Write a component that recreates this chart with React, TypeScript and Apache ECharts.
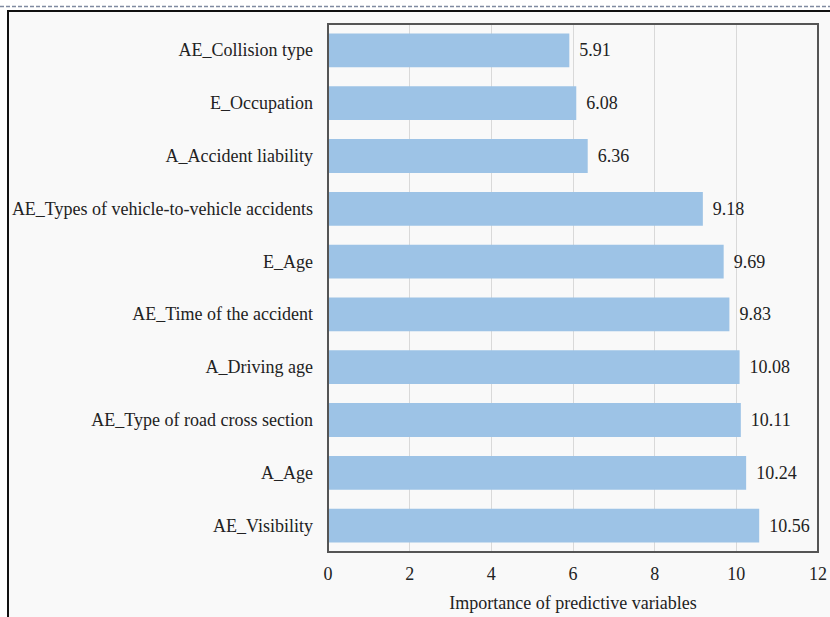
import React, { useEffect, useRef } from "react";
import * as echarts from "echarts";

const categories = [
  "AE_Visibility",
  "A_Age",
  "AE_Type of road cross section",
  "A_Driving age",
  "AE_Time of the accident",
  "E_Age",
  "AE_Types of vehicle-to-vehicle accidents",
  "A_Accident liability",
  "E_Occupation",
  "AE_Collision type",
];
const values = [10.56, 10.24, 10.11, 10.08, 9.83, 9.69, 9.18, 6.36, 6.08, 5.91];
const xTicks = { min: 0, max: 12, interval: 2 };
const xAxisTitle = "Importance of predictive variables";

export default function App() {
  const ref = useRef<HTMLDivElement>(null);
  useEffect(() => {
    if (!ref.current) return;
    const chart = echarts.init(ref.current, null, { renderer: "svg" });
    const font = "'Liberation Serif', 'Times New Roman', serif";
    chart.setOption({
      animation: false,
      backgroundColor: "#ffffff",
      textStyle: { fontFamily: font },
      graphic: [
        {
          type: "line",
          shape: { x1: 0, y1: 6.5, x2: 830, y2: 6.5 },
          style: { stroke: "#7f8aa0", lineWidth: 1.5, lineDash: [4, 2] },
          z: -10,
        },
        {
          type: "rect",
          shape: { x: 8, y: 11, width: 900, height: 700 },
          style: { fill: "#f9f9f9", stroke: "#111111", lineWidth: 2 },
          z: -20,
        },
      ],
      grid: {
        left: 328,
        right: 9,
        top: 24,
        bottom: 63,
        show: true,
        borderColor: "#555555",
        borderWidth: 2,
        backgroundColor: "transparent",
        z: 5,
      },
      xAxis: {
        type: "value",
        min: xTicks.min,
        max: xTicks.max,
        interval: xTicks.interval,
        name: xAxisTitle,
        nameLocation: "middle",
        nameGap: 42,
        nameTextStyle: { fontSize: 18, color: "#222", fontFamily: font },
        axisLine: { show: false },
        axisTick: { show: false },
        axisLabel: { fontSize: 18, color: "#222", margin: 13, fontFamily: font },
        splitLine: { show: true, lineStyle: { color: "#d9d9d9", width: 1 } },
      },
      yAxis: {
        type: "category",
        data: categories,
        axisLine: { show: false },
        axisTick: { show: false },
        axisLabel: { fontSize: 18, color: "#222", margin: 15, fontFamily: font },
        splitLine: { show: false },
      },
      series: [
        {
          type: "bar",
          data: values,
          barCategoryGap: "36%",
          itemStyle: { color: "#9dc3e6" },
          label: {
            show: true,
            position: "right",
            distance: 10,
            fontSize: 18,
            color: "#222",
            fontFamily: font,
            formatter: (p: any) => p.value.toFixed(2),
          },
        },
      ],
    });
    return () => chart.dispose();
  }, []);
  return (
    <div
      ref={ref}
      style={{ position: "fixed", left: 0, top: 0, width: 830, height: 617 }}
    />
  );
}
